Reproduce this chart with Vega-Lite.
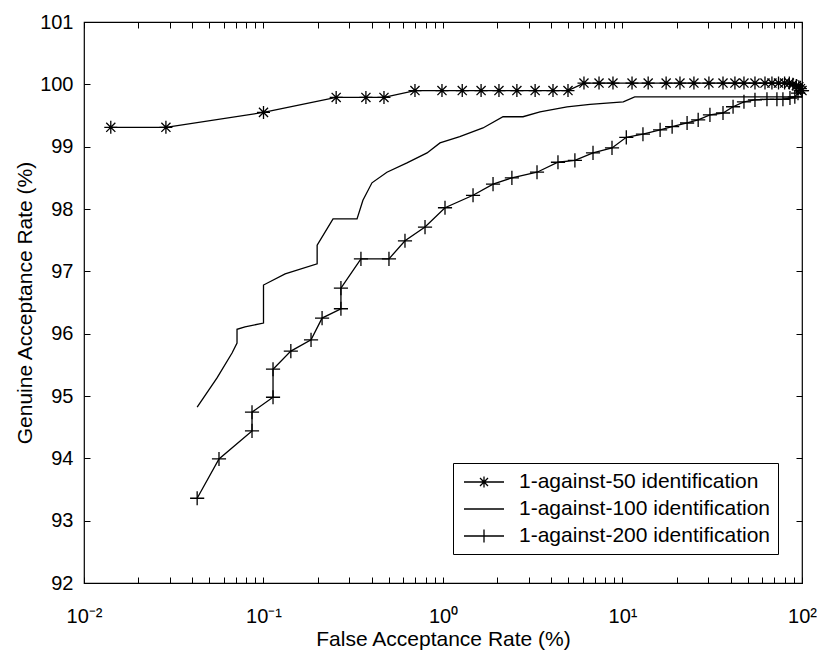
{
  "$schema": "https://vega.github.io/schema/vega-lite/v6.json",
  "width": 718,
  "height": 561,
  "autosize": {"type": "none"},
  "padding": {"left": 84, "top": 22, "right": 15, "bottom": 70},
  "background": "white",
  "config": {
    "view": {"stroke": "black", "strokeWidth": 1.2},
    "font": "Liberation Sans",
    "axis": {"grid": false, "domain": false, "tickColor": "black", "tickWidth": 1, "labelColor": "black", "titleColor": "black", "titleFontWeight": "normal", "labelFont": "Liberation Sans", "titleFont": "Liberation Sans"}
  },
  "data": {
    "values": [
      {"series": "1-against-50 identification", "far": 0.0141, "gar": 99.31},
      {"series": "1-against-50 identification", "far": 0.0286, "gar": 99.31},
      {"series": "1-against-50 identification", "far": 0.1, "gar": 99.55},
      {"series": "1-against-50 identification", "far": 0.254, "gar": 99.79},
      {"series": "1-against-50 identification", "far": 0.372, "gar": 99.79},
      {"series": "1-against-50 identification", "far": 0.469, "gar": 99.79},
      {"series": "1-against-50 identification", "far": 0.698, "gar": 99.9},
      {"series": "1-against-50 identification", "far": 0.987, "gar": 99.9},
      {"series": "1-against-50 identification", "far": 1.28, "gar": 99.9},
      {"series": "1-against-50 identification", "far": 1.63, "gar": 99.9},
      {"series": "1-against-50 identification", "far": 2.05, "gar": 99.9},
      {"series": "1-against-50 identification", "far": 2.58, "gar": 99.9},
      {"series": "1-against-50 identification", "far": 3.26, "gar": 99.9},
      {"series": "1-against-50 identification", "far": 4.1, "gar": 99.9},
      {"series": "1-against-50 identification", "far": 4.97, "gar": 99.9},
      {"series": "1-against-50 identification", "far": 6.1, "gar": 100.02},
      {"series": "1-against-50 identification", "far": 7.4, "gar": 100.02},
      {"series": "1-against-50 identification", "far": 8.85, "gar": 100.02},
      {"series": "1-against-50 identification", "far": 11.3, "gar": 100.02},
      {"series": "1-against-50 identification", "far": 13.9, "gar": 100.02},
      {"series": "1-against-50 identification", "far": 17.5, "gar": 100.02},
      {"series": "1-against-50 identification", "far": 20.9, "gar": 100.02},
      {"series": "1-against-50 identification", "far": 25.0, "gar": 100.02},
      {"series": "1-against-50 identification", "far": 30.3, "gar": 100.02},
      {"series": "1-against-50 identification", "far": 36.3, "gar": 100.02},
      {"series": "1-against-50 identification", "far": 42.3, "gar": 100.02},
      {"series": "1-against-50 identification", "far": 47.5, "gar": 100.02},
      {"series": "1-against-50 identification", "far": 54.7, "gar": 100.02},
      {"series": "1-against-50 identification", "far": 62.2, "gar": 100.02},
      {"series": "1-against-50 identification", "far": 68, "gar": 100.02},
      {"series": "1-against-50 identification", "far": 74, "gar": 100.02},
      {"series": "1-against-50 identification", "far": 80, "gar": 100.02},
      {"series": "1-against-50 identification", "far": 85, "gar": 100.02},
      {"series": "1-against-50 identification", "far": 89, "gar": 100.0},
      {"series": "1-against-50 identification", "far": 93, "gar": 99.98},
      {"series": "1-against-50 identification", "far": 96, "gar": 99.96},
      {"series": "1-against-50 identification", "far": 98, "gar": 99.93},
      {"series": "1-against-50 identification", "far": 100, "gar": 99.9},
      {"series": "1-against-100 identification", "far": 0.0427, "gar": 94.82},
      {"series": "1-against-100 identification", "far": 0.0551, "gar": 95.29},
      {"series": "1-against-100 identification", "far": 0.0668, "gar": 95.69},
      {"series": "1-against-100 identification", "far": 0.0712, "gar": 95.85},
      {"series": "1-against-100 identification", "far": 0.0712, "gar": 96.07},
      {"series": "1-against-100 identification", "far": 0.0789, "gar": 96.11},
      {"series": "1-against-100 identification", "far": 0.1, "gar": 96.17},
      {"series": "1-against-100 identification", "far": 0.1, "gar": 96.78},
      {"series": "1-against-100 identification", "far": 0.132, "gar": 96.96},
      {"series": "1-against-100 identification", "far": 0.199, "gar": 97.12},
      {"series": "1-against-100 identification", "far": 0.199, "gar": 97.42},
      {"series": "1-against-100 identification", "far": 0.244, "gar": 97.84},
      {"series": "1-against-100 identification", "far": 0.332, "gar": 97.84},
      {"series": "1-against-100 identification", "far": 0.358, "gar": 98.14},
      {"series": "1-against-100 identification", "far": 0.402, "gar": 98.42},
      {"series": "1-against-100 identification", "far": 0.487, "gar": 98.59},
      {"series": "1-against-100 identification", "far": 0.63, "gar": 98.74},
      {"series": "1-against-100 identification", "far": 0.815, "gar": 98.9},
      {"series": "1-against-100 identification", "far": 0.962, "gar": 99.06},
      {"series": "1-against-100 identification", "far": 1.24, "gar": 99.16},
      {"series": "1-against-100 identification", "far": 1.67, "gar": 99.3},
      {"series": "1-against-100 identification", "far": 2.16, "gar": 99.48},
      {"series": "1-against-100 identification", "far": 2.79, "gar": 99.48},
      {"series": "1-against-100 identification", "far": 3.47, "gar": 99.56},
      {"series": "1-against-100 identification", "far": 4.91, "gar": 99.64},
      {"series": "1-against-100 identification", "far": 6.59, "gar": 99.68},
      {"series": "1-against-100 identification", "far": 10.1, "gar": 99.72},
      {"series": "1-against-100 identification", "far": 11.7, "gar": 99.8},
      {"series": "1-against-100 identification", "far": 100, "gar": 99.8},
      {"series": "1-against-200 identification", "far": 0.0427, "gar": 93.36},
      {"series": "1-against-200 identification", "far": 0.0565, "gar": 93.99},
      {"series": "1-against-200 identification", "far": 0.0863, "gar": 94.44},
      {"series": "1-against-200 identification", "far": 0.0863, "gar": 94.74},
      {"series": "1-against-200 identification", "far": 0.113, "gar": 94.98},
      {"series": "1-against-200 identification", "far": 0.113, "gar": 95.43},
      {"series": "1-against-200 identification", "far": 0.142, "gar": 95.72},
      {"series": "1-against-200 identification", "far": 0.184, "gar": 95.9},
      {"series": "1-against-200 identification", "far": 0.212, "gar": 96.25},
      {"series": "1-against-200 identification", "far": 0.27, "gar": 96.4},
      {"series": "1-against-200 identification", "far": 0.27, "gar": 96.73},
      {"series": "1-against-200 identification", "far": 0.349, "gar": 97.2},
      {"series": "1-against-200 identification", "far": 0.5, "gar": 97.2},
      {"series": "1-against-200 identification", "far": 0.614, "gar": 97.49},
      {"series": "1-against-200 identification", "far": 0.794, "gar": 97.71},
      {"series": "1-against-200 identification", "far": 1.026, "gar": 98.02},
      {"series": "1-against-200 identification", "far": 1.47, "gar": 98.22},
      {"series": "1-against-200 identification", "far": 1.9, "gar": 98.4},
      {"series": "1-against-200 identification", "far": 2.42, "gar": 98.5},
      {"series": "1-against-200 identification", "far": 3.34, "gar": 98.59},
      {"series": "1-against-200 identification", "far": 4.37, "gar": 98.75},
      {"series": "1-against-200 identification", "far": 5.43, "gar": 98.78},
      {"series": "1-against-200 identification", "far": 6.85, "gar": 98.9},
      {"series": "1-against-200 identification", "far": 8.74, "gar": 98.98},
      {"series": "1-against-200 identification", "far": 10.5, "gar": 99.15},
      {"series": "1-against-200 identification", "far": 13.0, "gar": 99.2},
      {"series": "1-against-200 identification", "far": 16.2, "gar": 99.27},
      {"series": "1-against-200 identification", "far": 18.9, "gar": 99.32},
      {"series": "1-against-200 identification", "far": 22.9, "gar": 99.38},
      {"series": "1-against-200 identification", "far": 26.4, "gar": 99.43},
      {"series": "1-against-200 identification", "far": 30.7, "gar": 99.51},
      {"series": "1-against-200 identification", "far": 36.3, "gar": 99.54},
      {"series": "1-against-200 identification", "far": 41.3, "gar": 99.64},
      {"series": "1-against-200 identification", "far": 47.5, "gar": 99.72},
      {"series": "1-against-200 identification", "far": 54.7, "gar": 99.75},
      {"series": "1-against-200 identification", "far": 63.8, "gar": 99.76},
      {"series": "1-against-200 identification", "far": 72.5, "gar": 99.76},
      {"series": "1-against-200 identification", "far": 78.3, "gar": 99.76},
      {"series": "1-against-200 identification", "far": 85.7, "gar": 99.78},
      {"series": "1-against-200 identification", "far": 91.2, "gar": 99.8},
      {"series": "1-against-200 identification", "far": 95, "gar": 99.86},
      {"series": "1-against-200 identification", "far": 100, "gar": 99.9}
    ]
  },
  "layer": [
    {
      "mark": {"type": "line", "color": "black", "strokeWidth": 1.3},
      "encoding": {
        "x": {
          "field": "far", "type": "quantitative",
          "scale": {"type": "log", "domain": [0.01, 100]},
          "axis": {
            "orient": "bottom",
            "values": [0.01, 0.02, 0.03, 0.04, 0.05, 0.06, 0.07, 0.08, 0.09, 0.1, 0.2, 0.3, 0.4, 0.5, 0.6, 0.7, 0.8, 0.9, 1, 2, 3, 4, 5, 6, 7, 8, 9, 10, 20, 30, 40, 50, 60, 70, 80, 90, 100],
            "labelExpr": "datum.value == 0.01 ? '10\u207b\u00b2' : datum.value == 0.1 ? '10\u207b\u00b9' : datum.value == 1 ? '10\u2070' : datum.value == 10 ? '10\u00b9' : datum.value == 100 ? '10\u00b2' : ''",
            "labelFlush": false, "labelOverlap": false, "labelBound": false,
            "labelFontSize": 20, "tickSize": -6, "labelPadding": 29,
            "title": "False Acceptance Rate (%)", "titleFontSize": 21, "titlePadding": 2
          }
        },
        "y": {
          "field": "gar", "type": "quantitative",
          "scale": {"domain": [92, 101], "nice": false, "zero": false},
          "axis": {
            "orient": "left",
            "values": [92, 93, 94, 95, 96, 97, 98, 99, 100, 101],
            "labelFontSize": 20, "tickSize": -6, "labelPadding": 17,
            "title": "Genuine Acceptance Rate (%)", "titleFontSize": 21, "titlePadding": 4
          }
        },
        "detail": {"field": "series"},
        "order": {"value": null}
      }
    },
    {
      "transform": [{"filter": "datum.series != '1-against-100 identification'"}],
      "mark": {"type": "point", "filled": false, "color": "black", "strokeWidth": 1.3, "opacity": 1},
      "encoding": {
        "x": {"field": "far", "type": "quantitative", "axis": null},
        "y": {"field": "gar", "type": "quantitative", "axis": null},
        "shape": {
          "field": "series", "type": "nominal",
          "scale": {"domain": ["1-against-50 identification", "1-against-200 identification"], "range": ["M-1,0L1,0M0,-1L0,1M-0.7,-0.7L0.7,0.7M-0.7,0.7L0.7,-0.7", "M-1,0L1,0M0,-1L0,1"]},
          "legend": null
        },
        "size": {
          "field": "series", "type": "nominal",
          "scale": {"domain": ["1-against-50 identification", "1-against-200 identification"], "range": [169, 200]},
          "legend": null
        }
      }
    },
    {
      "mark": {"type": "point", "filled": false, "color": "black", "opacity": 0},
      "encoding": {
        "x": {"field": "far", "type": "quantitative", "axis": null},
        "y": {"field": "gar", "type": "quantitative", "axis": null},
        "shape": {
          "field": "series", "type": "nominal",
          "scale": {"domain": ["1-against-50 identification", "1-against-100 identification", "1-against-200 identification"], "range": ["M-2,0L2,0M0,-0.56L0,0.56M-0.4,-0.4L0.4,0.4M-0.4,0.4L0.4,-0.4", "M-2,0L2,0", "M-2,0L2,0M0,-0.66L0,0.66"]},
          "legend": {
            "orient": "none", "legendX": 369, "legendY": 441, "title": null,
            "strokeColor": "black", "fillColor": "white", "padding": 8,
            "labelFont": "Liberation Sans", "labelFontSize": 21, "labelColor": "black", "labelLimit": 400,
            "symbolSize": 400, "symbolOffset": 12, "symbolStrokeColor": "black", "symbolStrokeWidth": 1.3,
            "symbolFillColor": "transparent", "symbolOpacity": 1, "labelOffset": 24, "rowPadding": 6
          }
        }
      }
    },
    {
      "mark": {"type": "point", "opacity": 0},
      "encoding": {
        "x": {
          "field": "far", "type": "quantitative",
          "axis": {
            "orient": "top", "labels": false, "title": null, "tickSize": -6,
            "values": [0.01, 0.02, 0.03, 0.04, 0.05, 0.06, 0.07, 0.08, 0.09, 0.1, 0.2, 0.3, 0.4, 0.5, 0.6, 0.7, 0.8, 0.9, 1, 2, 3, 4, 5, 6, 7, 8, 9, 10, 20, 30, 40, 50, 60, 70, 80, 90, 100]
          }
        },
        "y": {
          "field": "gar", "type": "quantitative",
          "axis": {"orient": "right", "labels": false, "title": null, "tickSize": -6, "values": [92, 93, 94, 95, 96, 97, 98, 99, 100, 101]}
        }
      }
    }
  ],
  "resolve": {
    "axis": {"x": "independent", "y": "independent"},
    "scale": {"shape": "independent", "size": "independent"},
    "legend": {"shape": "independent", "size": "independent"}
  }
}
